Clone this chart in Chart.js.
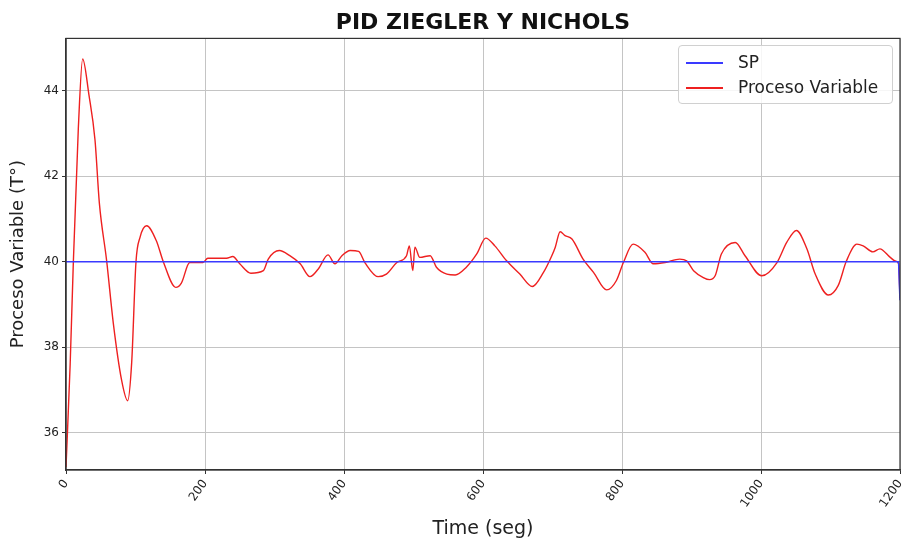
<!DOCTYPE html>
<html>
<head>
<meta charset="utf-8">
<title>PID Ziegler y Nichols</title>
<script src="https://cdn.jsdelivr.net/npm/chart.js@4.4.1/dist/chart.umd.min.js"></script>
<style>
  body { margin: 0; background: #fff; }
  #wrap { position: relative; width: 912px; height: 540px; }
  #legend {
    position: absolute; left: 678px; top: 45px; width: 213px; height: 57px;
    border: 1px solid #d0d0d0; border-radius: 4px; background: rgba(255,255,255,0.85);
    font-family: "DejaVu Sans", sans-serif; font-size: 17px; color: #222;
  }
  #legend .item { position: absolute; left: 7px; height: 20px; }
  #legend .line { position: absolute; left: 0; top: 10px; width: 37px; height: 1.5px; }
  #legend .txt { position: absolute; left: 52px; top: 0; white-space: nowrap; line-height: 20px; }
</style>
</head>
<body>
<div id="wrap">
  <canvas id="pidChart" width="912" height="540"></canvas>
  <div id="legend"></div>
</div>
<script>
// set point
var spTime = [0, 1198, 1200];
var spValue = [40, 40, 39.1];

// process variable
var pvTime = [0, 6, 10.5, 17.7, 24, 33, 41.7, 48, 58.5, 68, 80, 88.7, 94.5, 100.7, 106.5, 116,
  130, 140, 158, 166, 178, 197, 204, 231, 240, 250, 266, 284, 291, 307, 322, 337, 351, 363,
  377, 387, 397, 409, 421, 430, 449, 461, 476, 490, 494, 499, 502, 509, 524, 533, 548, 560,
  576, 591, 604, 617, 634, 653, 671, 687, 699, 704, 711, 718, 728, 744, 759, 778, 792, 802,
  816, 833, 845, 862, 883, 893, 903, 917, 926, 934, 943, 963, 977, 1001, 1023, 1037, 1051,
  1066, 1078, 1097, 1111, 1123, 1138, 1147, 1161, 1171, 1186, 1193, 1198, 1200];
var pvValue = [35.2, 37.6, 39.95, 43.1, 44.74, 43.9, 42.85, 41.37, 40.02, 38.57, 37.23, 36.75, 37.64, 40.0, 40.57, 40.84,
  40.49, 40.0, 39.4, 39.5, 39.98, 39.98, 40.08, 40.08, 40.12, 39.95, 39.73, 39.79, 40.06, 40.26, 40.14, 39.95, 39.65, 39.83,
  40.16, 39.95, 40.14, 40.26, 40.24, 39.98, 39.65, 39.71, 39.98, 40.14, 40.37, 39.79, 40.34, 40.1, 40.14, 39.87, 39.71, 39.69,
  39.87, 40.18, 40.55, 40.37, 40.02, 39.71, 39.42, 39.75, 40.14, 40.34, 40.7, 40.61, 40.53, 40.06, 39.75, 39.34, 39.56, 39.98,
  40.41, 40.22, 39.95, 39.98, 40.06, 40.02, 39.79, 39.63, 39.58, 39.67, 40.18, 40.45, 40.14, 39.67, 39.98, 40.45, 40.73,
  40.3, 39.71, 39.22, 39.44, 40.02, 40.41, 40.37, 40.23, 40.3, 40.1, 40.02, 39.95, 39.15];

var xTicks = [0, 200, 400, 600, 800, 1000, 1200];
var yTicks = [36, 38, 40, 42, 44];

function toPoints(xs, ys) {
  return xs.map(function (x, i) { return { x: x, y: ys[i] }; });
}

Chart.defaults.font.family = '"DejaVu Sans", sans-serif';
Chart.defaults.color = '#222';

// matplotlib-like frame on all four sides
var framePlugin = {
  id: 'frame',
  afterDatasetsDraw: function (chart) {
    var a = chart.chartArea, c = chart.ctx;
    c.save();
    c.strokeStyle = '#333';
    c.lineWidth = 1.2;
    c.strokeRect(a.left, a.top, a.right - a.left, a.bottom - a.top);
    c.restore();
  }
};

var ctx = document.getElementById('pidChart').getContext('2d');
var chart = new Chart(ctx, {
  type: 'line',
  data: {
    datasets: [{
      label: 'SP',
      data: toPoints(spTime, spValue),
      borderColor: '#3a3aff',
      borderWidth: 1.6,
      pointRadius: 0,
      tension: 0
    }, {
      label: 'Proceso Variable',
      data: toPoints(pvTime, pvValue),
      borderColor: '#ee2020',
      borderWidth: 1.4,
      pointRadius: 0,
      cubicInterpolationMode: 'monotone'
    }]
  },
  options: {
    responsive: false,
    animation: false,
    layout: { padding: 0 },
    plugins: {
      legend: { display: false },
      tooltip: { enabled: false },
      title: {
        display: true,
        fullSize: false,
        text: 'PID ZIEGLER Y NICHOLS',
        color: '#111',
        font: { size: 22, weight: 'bold', lineHeight: 1.2 },
        padding: { top: 10, bottom: 2 }
      }
    },
    scales: {
      x: {
        type: 'linear',
        min: 0,
        max: 1200,
        afterBuildTicks: function (s) { s.ticks = xTicks.map(function (v) { return { value: v }; }); },
        afterFit: function (s) { s.height = 70; s.paddingRight = 12; },
        ticks: {
          autoSkip: false, minRotation: 55, maxRotation: 55, font: { size: 12 }, padding: 3,
          callback: function (v) { return String(v); }
        },
        grid: { color: '#c4c4c4', lineWidth: 1, tickLength: 4, tickColor: '#333' },
        border: { color: '#333', width: 1.2 },
        title: { display: true, text: 'Time (seg)', font: { size: 19, lineHeight: 1.2 }, padding: { top: 0, bottom: 0 } }
      },
      y: {
        min: 35.13,
        max: 45.22,
        afterBuildTicks: function (s) { s.ticks = yTicks.map(function (v) { return { value: v }; }); },
        afterFit: function (s) { s.width = 66; },
        ticks: { font: { size: 12 }, padding: 3 },
        grid: { color: '#c4c4c4', lineWidth: 1, tickLength: 4, tickColor: '#333' },
        border: { color: '#333', width: 1.2 },
        title: { display: true, text: 'Proceso Variable (T°)', font: { size: 18, lineHeight: 1.2 }, padding: { top: 8, bottom: 0 } }
      }
    }
  },
  plugins: [framePlugin]
});

// legend box inside the plot, built from the datasets
var legend = document.getElementById('legend');
chart.data.datasets.forEach(function (ds, i) {
  var item = document.createElement('div');
  item.className = 'item';
  item.style.top = (6 + i * 25) + 'px';
  item.innerHTML = '<div class="line" style="background:' + ds.borderColor + '"></div><div class="txt">' + ds.label + '</div>';
  legend.appendChild(item);
});
</script>
</body>
</html>
